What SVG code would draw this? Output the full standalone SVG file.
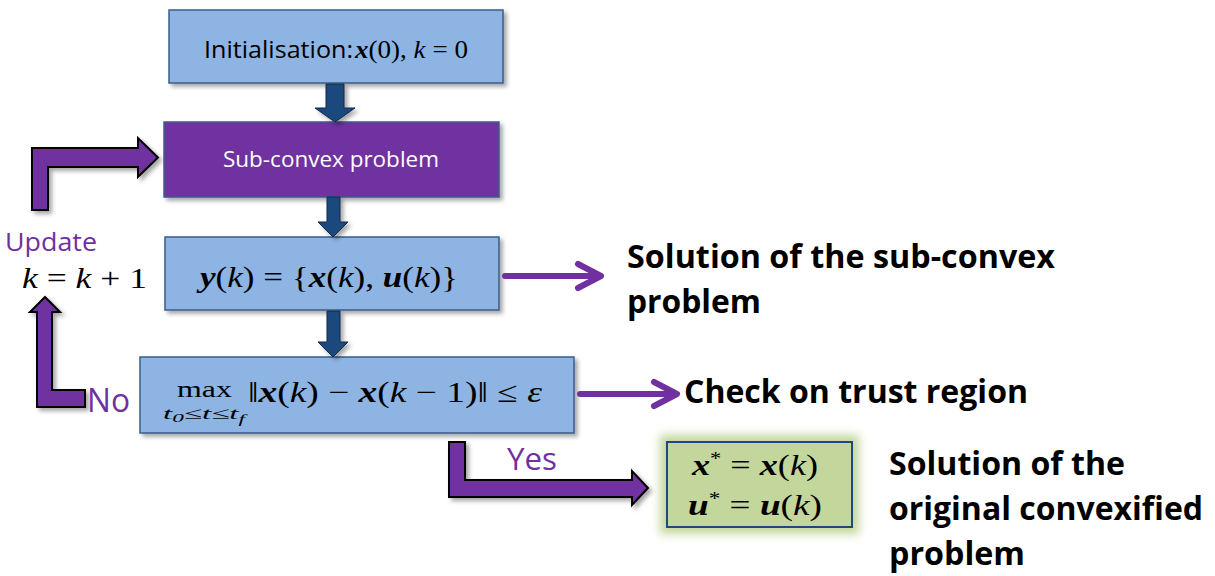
<svg xmlns="http://www.w3.org/2000/svg" width="1215" height="576" viewBox="0 0 1215 576">
<defs>
<filter id="sh" x="-10%" y="-20%" width="130%" height="150%">
<feDropShadow dx="3" dy="3" stdDeviation="2" flood-color="#000" flood-opacity="0.35"/>
</filter>
<filter id="glow" x="-30%" y="-40%" width="160%" height="180%">
<feGaussianBlur stdDeviation="5"/>
</filter>
</defs>
<style>
.box{fill:#8EB4E3;stroke:#385D8A;stroke-width:1.5}
.pbox{fill:#7030A0;stroke:#385D8A;stroke-width:1.5}
.gbox{fill:#C3D69B;stroke:#1F497D;stroke-width:2}
.blk{fill:#7030A0;stroke:#000;stroke-width:2;stroke-linejoin:miter}
.down{fill:#1F497D;stroke:#0F2A4A;stroke-width:1}
.thin{fill:none;stroke:#7030A0;stroke-width:6;stroke-linecap:round;stroke-linejoin:round}
.sans{font-family:"Open Sans","Liberation Sans",sans-serif}
.lbl{font-family:"Open Sans","Liberation Sans",sans-serif;font-weight:bold;font-size:32px;fill:#000}
.pur{font-family:"Open Sans","Liberation Sans",sans-serif;fill:#7030A0}
.m{font-family:"Liberation Serif","DejaVu Serif",serif;fill:#000}
.bi{font-weight:bold;font-style:italic}
.it{font-style:italic}
</style>

<g id="init">
<rect class="box" x="169" y="10" width="334" height="73" filter="url(#sh)"/>
<text class="sans" x="204" y="58" font-size="24" textLength="149" lengthAdjust="spacingAndGlyphs">Initialisation:</text>
<text class="m" x="355" y="58" font-size="26" textLength="113" lengthAdjust="spacingAndGlyphs"><tspan class="bi">x</tspan>(0), <tspan class="it">k</tspan> = 0</text>
</g>

<g id="subconvex">
<rect class="pbox" x="164" y="122" width="335" height="75" filter="url(#sh)"/>
<text class="sans" x="223" y="167" font-size="22" fill="#fff" textLength="216" lengthAdjust="spacingAndGlyphs">Sub-convex problem</text>
</g>

<g id="solution">
<rect class="box" x="165" y="237" width="334" height="73" filter="url(#sh)"/>
<text class="m" x="200" y="287" font-size="29" textLength="258" lengthAdjust="spacingAndGlyphs"><tspan class="bi">y</tspan>(<tspan class="it">k</tspan>) = {<tspan class="bi">x</tspan>(<tspan class="it">k</tspan>), <tspan class="bi">u</tspan>(<tspan class="it">k</tspan>)}</text>
</g>

<g id="check">
<rect class="box" x="140" y="357" width="434" height="76" filter="url(#sh)"/>
<text class="m" x="177" y="397" font-size="23" textLength="55" lengthAdjust="spacingAndGlyphs">max</text>
<text class="m it" x="163" y="419" font-size="17" textLength="82" lengthAdjust="spacingAndGlyphs">t<tspan font-size="12" dy="3">0</tspan><tspan dy="-3" font-style="normal">≤</tspan>t<tspan font-style="normal">≤</tspan>t<tspan font-size="12" dy="4">f</tspan></text>
<text class="m" x="248" y="402" font-size="29" textLength="294" lengthAdjust="spacingAndGlyphs">‖<tspan class="bi">x</tspan>(<tspan class="it">k</tspan>) − <tspan class="bi">x</tspan>(<tspan class="it">k</tspan> − 1)‖ ≤ <tspan class="it">ε</tspan></text>
</g>

<g id="final">
<rect x="660" y="435" width="199" height="99" fill="#C3D69B" filter="url(#glow)"/>
<rect class="gbox" x="667" y="442" width="185" height="85"/>
<text class="m" x="692" y="475" font-size="29" textLength="126" lengthAdjust="spacingAndGlyphs"><tspan class="bi">x</tspan><tspan font-size="18" dy="-10">*</tspan><tspan dy="10"> = </tspan><tspan class="bi">x</tspan>(<tspan class="it">k</tspan>)</text>
<text class="m" x="688" y="515" font-size="29" textLength="134" lengthAdjust="spacingAndGlyphs"><tspan class="bi">u</tspan><tspan font-size="18" dy="-10">*</tspan><tspan dy="10"> = </tspan><tspan class="bi">u</tspan>(<tspan class="it">k</tspan>)</text>
</g>

<g id="update-label">
<text class="pur" x="5" y="251" font-size="26" textLength="92" lengthAdjust="spacingAndGlyphs">Update</text>
<text class="m" x="22" y="288" font-size="29" textLength="125" lengthAdjust="spacingAndGlyphs"><tspan class="it">k</tspan> = <tspan class="it">k</tspan> + 1</text>
</g>

<g id="label-sub">
<text class="lbl" x="627" y="268" textLength="428" lengthAdjust="spacingAndGlyphs">Solution of the sub-convex</text>
<text class="lbl" x="627" y="313" textLength="134" lengthAdjust="spacingAndGlyphs">problem</text>
</g>
<g id="label-trust">
<text class="lbl" x="684" y="403" textLength="344" lengthAdjust="spacingAndGlyphs">Check on trust region</text>
</g>
<g id="label-final">
<text class="lbl" x="889" y="475" textLength="236" lengthAdjust="spacingAndGlyphs">Solution of the</text>
<text class="lbl" x="889" y="520" textLength="314" lengthAdjust="spacingAndGlyphs">original convexified</text>
<text class="lbl" x="889" y="565" textLength="136" lengthAdjust="spacingAndGlyphs">problem</text>
</g>

<g id="connectors">
<path class="down" d="M326,84 L344,84 L344,108 L355,108 L335,122 L315,108 L326,108 Z" filter="url(#sh)"/>
<path class="down" d="M327,197 L340,197 L340,222 L348,222 L333,237 L318,222 L327,222 Z" filter="url(#sh)"/>
<path class="down" d="M327,311 L340,311 L340,342 L348,342 L333,357 L318,342 L327,342 Z" filter="url(#sh)"/>
<path class="blk" d="M32,210 L32,148 L138,148 L138,138 L158,157.5 L138,177 L138,167 L48,167 L48,210 Z" filter="url(#sh)"/>
<path class="blk" d="M52,312 L60,312 L45,297 L30,312 L37,312 L37,407 L85,407 L85,390 L52,390 Z" filter="url(#sh)"/>
<text class="pur" x="87" y="412" font-size="32" textLength="43" lengthAdjust="spacingAndGlyphs">No</text>
<path class="blk" d="M449,442 L465,442 L465,480 L632,480 L632,471 L648,488 L632,505 L632,497 L449,497 Z" filter="url(#sh)"/>
<text class="pur" x="507" y="470" font-size="31" textLength="50" lengthAdjust="spacingAndGlyphs">Yes</text>
<line class="thin" x1="505" y1="276" x2="598" y2="276"/>
<polyline class="thin" points="578,264 601,276 578,288"/>
<line class="thin" x1="580" y1="394" x2="674" y2="394"/>
<polyline class="thin" points="654,382 677,394 654,406"/>
</g>
</svg>
